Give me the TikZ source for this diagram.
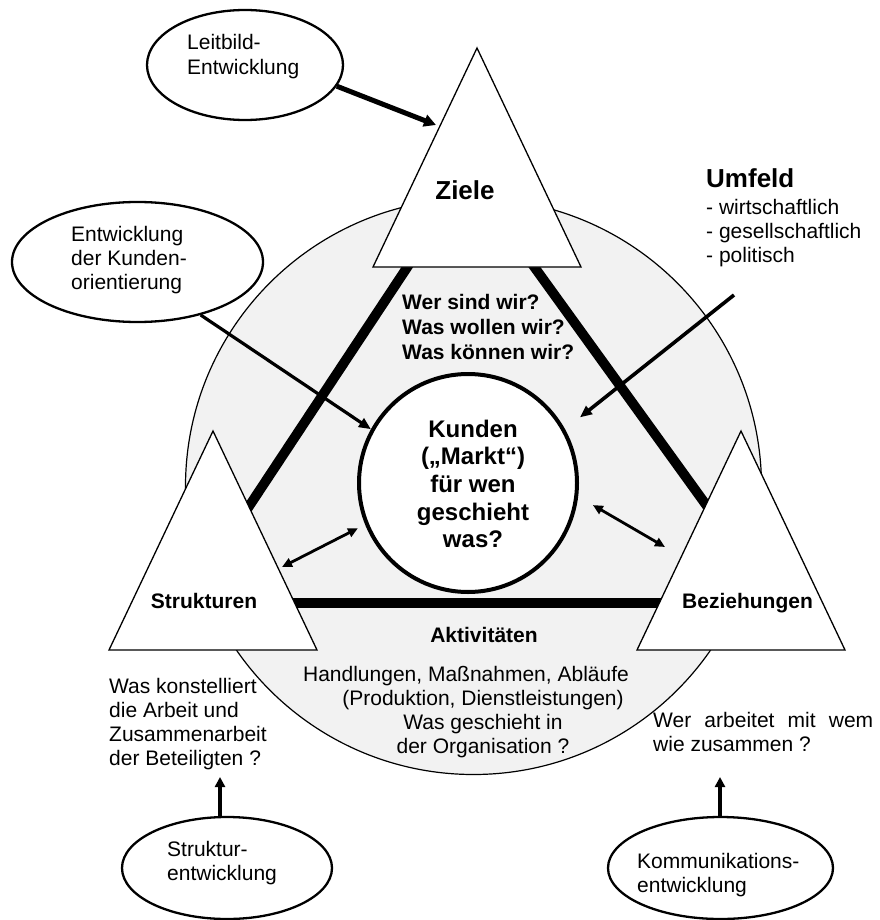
\documentclass[tikz,border=0pt]{standalone}
\usepackage{fontspec}
\setmainfont{Liberation Sans}
\usetikzlibrary{shapes.geometric,arrows.meta}
\definecolor{ringfill}{RGB}{242,242,242}
\newcommand{\fsN}{\fontsize{21}{24.3}\selectfont}
\newcommand{\fsK}{\fontsize{24}{27.7}\selectfont\bfseries}
\newcommand{\fsH}{\fontsize{26}{30}\selectfont\bfseries}
\newcommand{\fsB}{\fontsize{21}{25}\selectfont\bfseries}
\newcommand{\linesL}[1]{\begin{tabular}[t]{@{}l@{}}#1\end{tabular}}
\newcommand{\linesC}[1]{\begin{tabular}[t]{@{}c@{}}#1\end{tabular}}
\begin{document}
\begin{tikzpicture}[x=1pt,y=-1pt,
  tri/.style={draw, line width=1.3pt, fill=white, line join=miter},
  thickbar/.style={line width=9.8pt},
  ell/.style={ellipse, draw, line width=2.3pt, fill=white, inner sep=0pt},
  txtl/.style={anchor=base west, inner sep=0pt, font=\fsN},
  txtc/.style={anchor=base, inner sep=0pt, font=\fsN},
  arrL/.style={line width=5pt, -{Triangle[length=12pt,width=12pt]}},
  arrK/.style={line width=3.2pt, -{Triangle[length=12pt,width=10pt]}},
  arrD/.style={line width=2.8pt, {Triangle[length=10pt,width=9pt]}-{Triangle[length=10pt,width=9pt]}},
  arrUp/.style={line width=4.5pt, -{Triangle[length=10pt,width=10pt]}}]
\useasboundingbox (0,0) rectangle (879,920);
\fill[white] (0,0) rectangle (879,920);

% big ring
\node[circle, draw, line width=1.2pt, fill=ringfill, minimum size=576pt, inner sep=0pt] (ring) at (473.5,486.5) {};

% thick connecting bars
\draw[thickbar] (410,263) -- (240,520);
\draw[thickbar] (530.7,262) -- (717,520);
\draw[thickbar] (285,603) -- (670,603);

% triangles
\draw[tri] (477,48) -- (373,267) -- (581,267) -- cycle;
\draw[tri] (213,431) -- (109,650) -- (317,650) -- cycle;
\draw[tri] (741,431) -- (637,650) -- (845,650) -- cycle;

% inner circle
\node[circle, draw, line width=4pt, fill=white, minimum size=218pt, inner sep=0pt] (kunden) at (468,483) {};

% ellipses
\node[ell, minimum width=196pt, minimum height=110pt] (leit) at (245,65) {};
\node[ell, minimum width=251pt, minimum height=120pt] (kund) at (137.5,262) {};
\node[ell, minimum width=210pt, minimum height=102pt] (strk) at (227,868) {};
\node[ell, minimum width=225pt, minimum height=102pt] (komm) at (720.5,868) {};

% texts
\node[txtl] (leit-t) at (187,50) {\linesL{Leitbild-\\Entwicklung}};
\node[txtl] (kund-t) at (71,241) {\linesL{Entwicklung\\der Kunden-\\orientierung}};
\node[txtl] (strk-t) at (167,856) {\linesL{Struktur-\\entwicklung}};
\node[txtl] (komm-t) at (637,868) {\linesL{Kommunikations-\\entwicklung}};

\node[anchor=base, inner sep=0pt, font=\fsH] (ziele-t) at (465,200) {Ziele};
\node[anchor=base west, inner sep=0pt, font=\fsH] (umf-t) at (706,188) {Umfeld};
\node[txtl] (umf-l) at (706,214) {\linesL{- wirtschaftlich\\- gesellschaftlich\\- politisch}};
\node[anchor=base west, inner sep=0pt, font=\fsB] (wer-t) at (402,309) {\linesL{Wer sind wir?\\Was wollen wir?\\Was können wir?}};
\node[anchor=base, inner sep=0pt, font=\fsK] (kunden-t) at (473,437) {\linesC{Kunden\\(„Markt“)\\für wen\\geschieht\\was?}};
\node[anchor=base, inner sep=0pt, font=\fsB] (str-t) at (204,608) {Strukturen};
\node[anchor=base, inner sep=0pt, font=\fsB] (bez-t) at (747.5,608) {Beziehungen};
\node[anchor=base, inner sep=0pt, font=\fsB] (akt-t) at (484,642) {Aktivitäten};
\node[txtc] (akt-d) at (483,681) {\linesC{Handlungen, Maßnahmen, Abläufe\hspace*{34pt}\\(Produktion, Dienstleistungen)\\Was geschieht in\\der Organisation ?}};
\node[txtl] (str-q) at (109,693) {\linesL{Was konstelliert\\die Arbeit und\\Zusammenarbeit\\der Beteiligten ?}};
\node[txtl] (bez-q) at (653,727.5) {\linesL{\makebox[220pt][s]{Wer arbeitet mit wem}\\wie zusammen ?}};

% arrows
\coordinate (zin) at (436,125);
\draw[arrL] (leit.-13) -- (zin);
\draw[arrK] (kund.-40) -- (kunden.151);
\coordinate (uf) at (734,295);
\draw[arrK, line width=3.6pt, shorten >=19pt] (uf) -- (kunden.29);
\coordinate (sl) at (282,567);
\draw[arrD, shorten >=8pt] (sl) -- (kunden.202);
\coordinate (sr) at (665,547);
\draw[arrD, shorten >=17pt] (sr) -- (kunden.-7);
\coordinate (q1) at (220,777);
\draw[arrUp] (q1 |- strk.north) -- (q1);
\coordinate (q2) at (720,777);
\draw[arrUp] (q2 |- komm.north) -- (q2);
\end{tikzpicture}
\end{document}
